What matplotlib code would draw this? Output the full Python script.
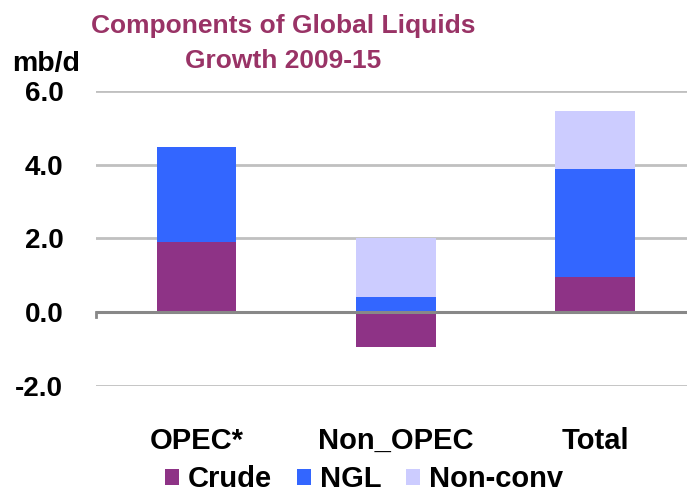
import matplotlib
matplotlib.use("Agg")
import matplotlib.pyplot as plt
from matplotlib.patches import Patch
import numpy as np

plt.rcParams['font.family'] = ['Liberation Sans', 'DejaVu Sans']
plt.rcParams['font.weight'] = 'bold'

categories = ["OPEC*", "Non_OPEC", "Total"]
crude = [1.9, -0.95, 0.94]
ngl = [2.58, 0.4, 2.93]
nonconv = [0.0, 1.6, 1.59]
series_names = ["Crude", "NGL", "Non-conv"]
colors = ["#8E3386", "#3366FF", "#CCCCFF"]

fig = plt.figure(figsize=(6.87, 4.93), dpi=100)
ax = fig.add_axes([0.1397, 0.217, 0.8603, 0.599])

x = np.arange(len(categories))
w = 0.40
crude_a = np.array(crude)
pos_base = np.clip(crude_a, 0, None)
ax.bar(x, crude_a, w, color=colors[0], zorder=3)
ax.bar(x, ngl, w, bottom=pos_base, color=colors[1], zorder=3)
ax.bar(x, nonconv, w, bottom=pos_base + np.array(ngl), color=colors[2], zorder=3)

ax.set_xlim(-0.504, 2.46)
ax.set_ylim(-2, 6)
ax.set_yticks([-2, 0, 2, 4, 6])
ax.set_yticklabels(["-2.0", "0.0", "2.0", "4.0", "6.0"], fontsize=20, fontweight='bold')
ax.yaxis.grid(True, color="#c0c0c0", linewidth=2, zorder=0)
ax.tick_params(axis='y', length=0, pad=23.5)
ax.set_xticks(x)
ax.set_xticklabels(categories, fontsize=21, fontweight='bold')
ax.tick_params(axis='x', length=0, pad=29.5)
for s in ax.spines.values():
    s.set_visible(False)
ax.axhline(0, color="#888888", linewidth=2.2, zorder=4)
ax.plot([-0.504, -0.504], [0, -0.12], color="#888888", linewidth=2, zorder=4, clip_on=False)

fig.text(0.412, 0.947, "Components of Global Liquids", ha='center', va='center',
         fontsize=19, fontweight='bold', color="#993366")
fig.text(0.412, 0.877, "Growth 2009-15", ha='center', va='center',
         fontsize=19, fontweight='bold', color="#993366")
fig.text(0.018, 0.870, "mb/d", ha='left', va='center', fontsize=20.5, fontweight='bold')

handles = [Patch(facecolor=c, edgecolor='none') for c in colors]
fig.legend(handles, series_names, loc='center', bbox_to_anchor=(0.53, 0.028), ncol=3,
           frameon=False, prop={'size': 21, 'weight': 'bold'}, handlelength=0.48,
           handleheight=0.48, handletextpad=0.31, columnspacing=0.84)

fig.savefig("out.png", dpi=100)
